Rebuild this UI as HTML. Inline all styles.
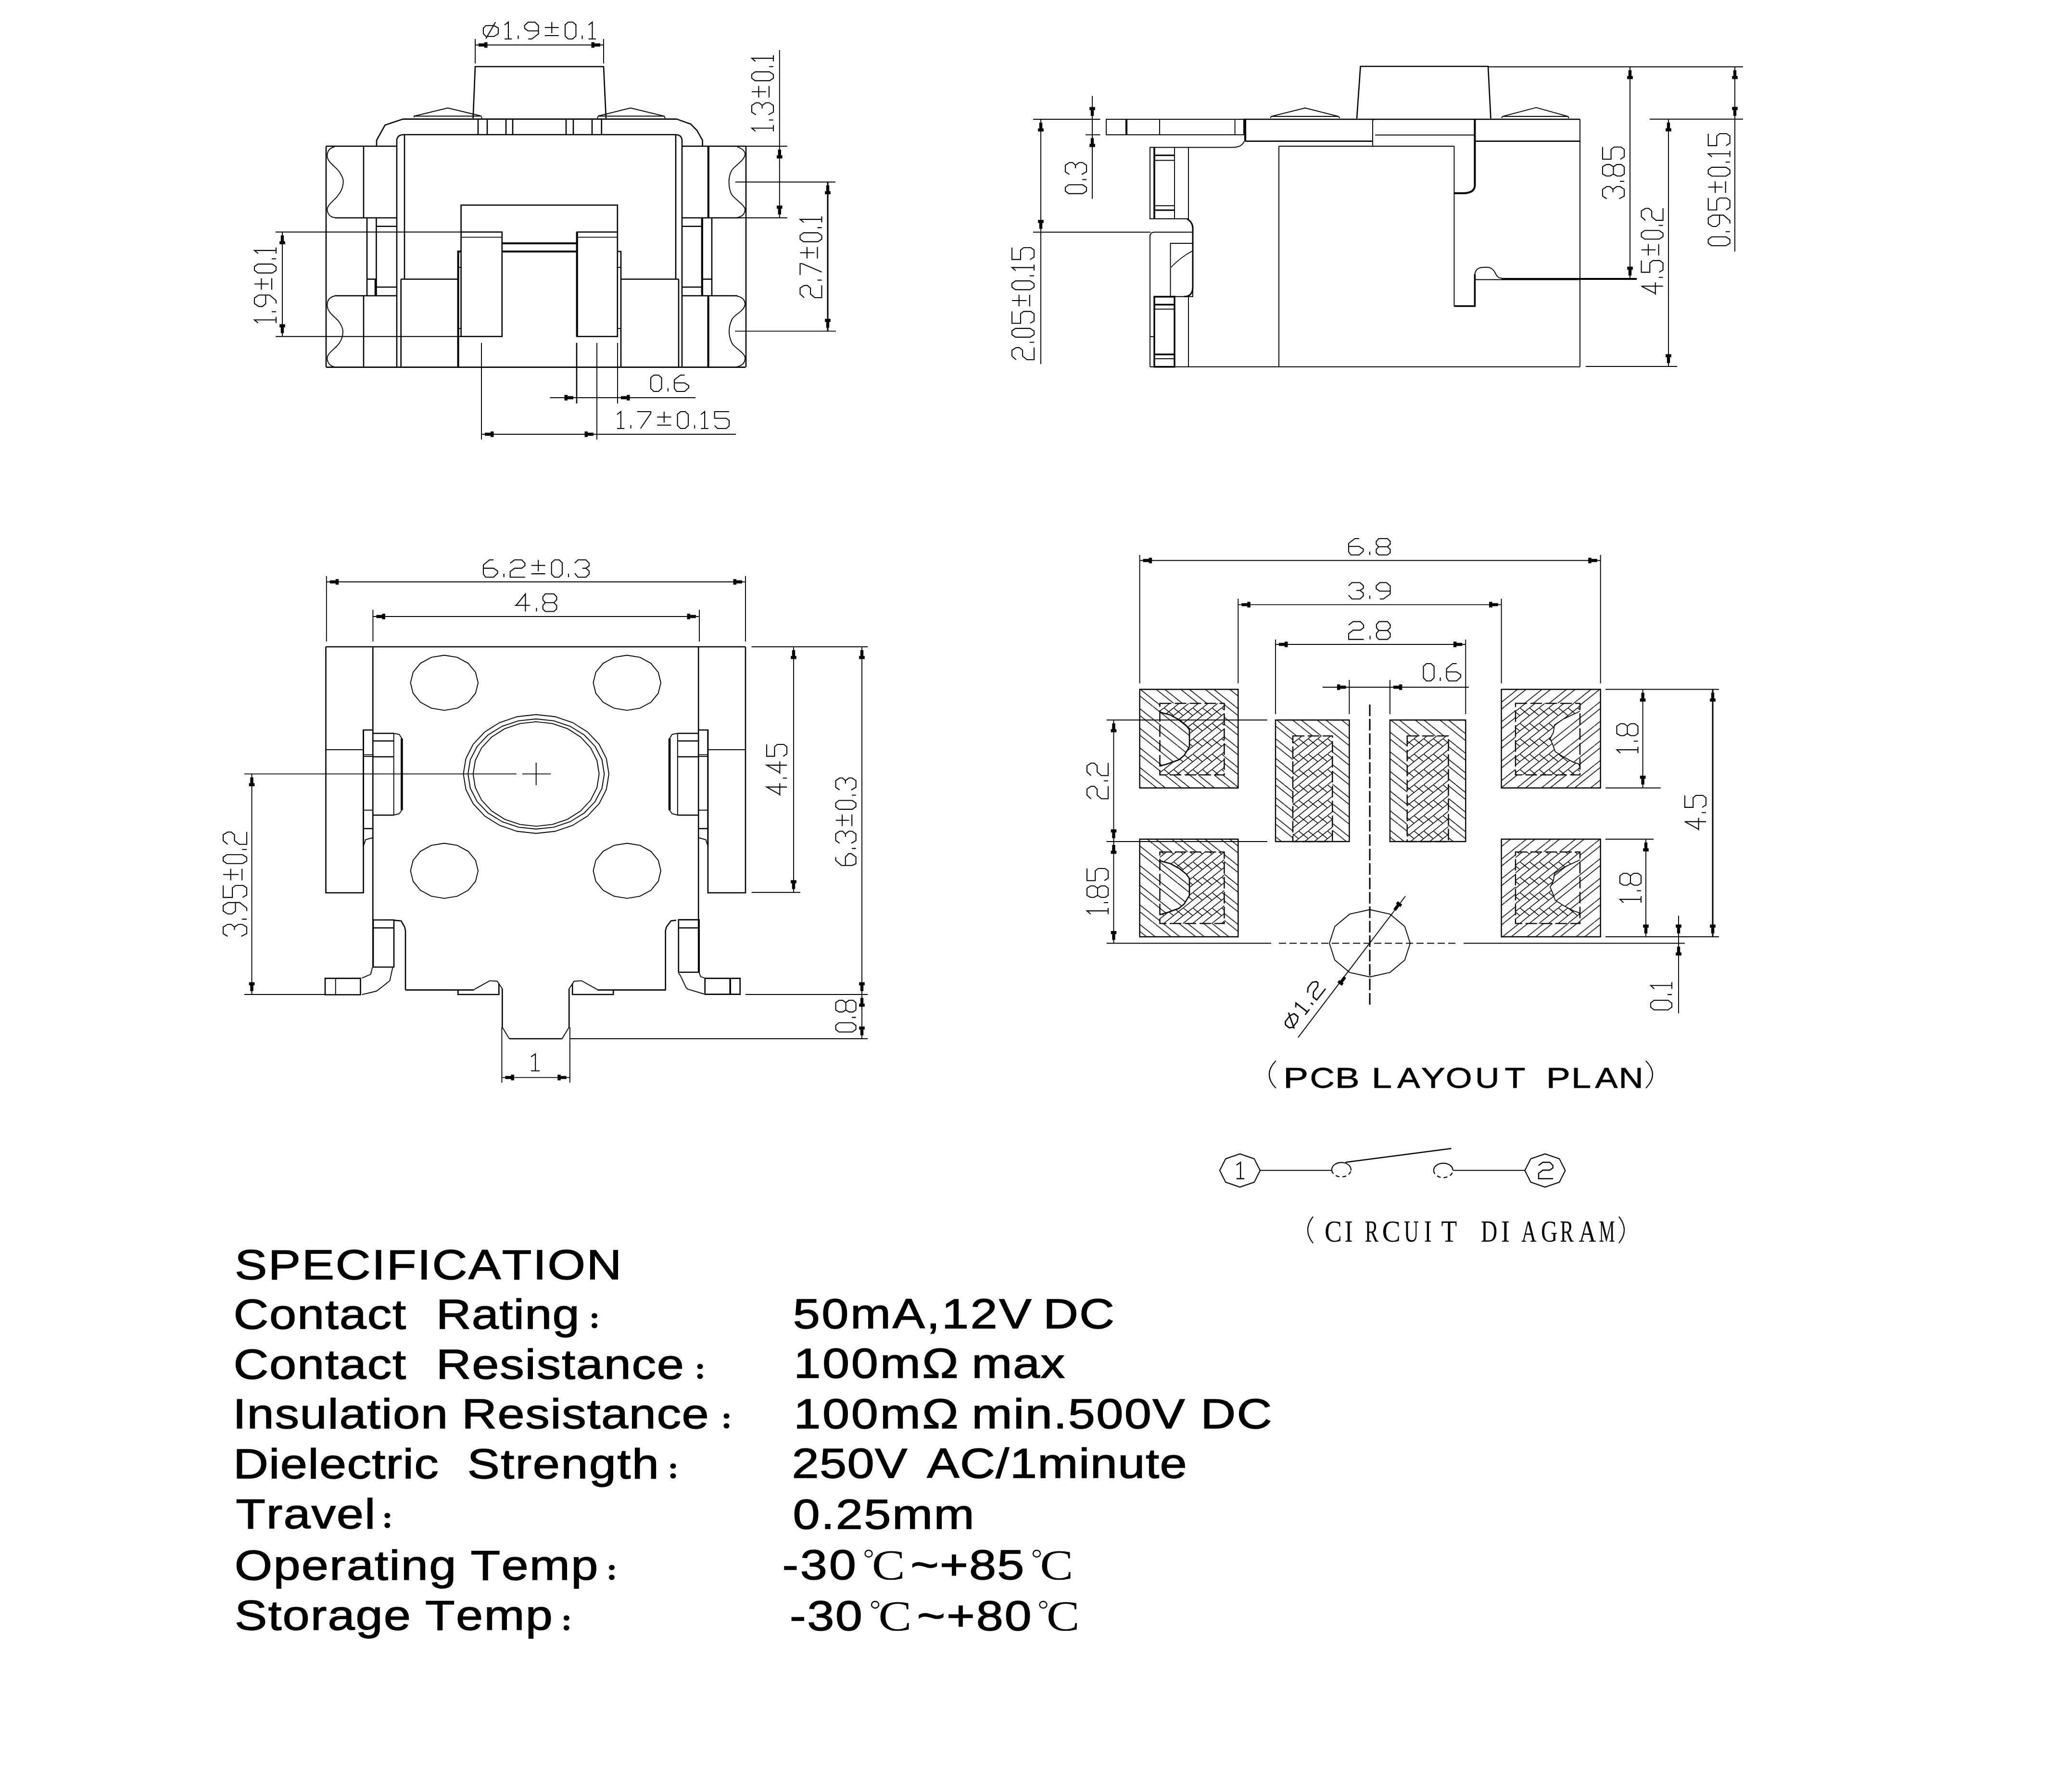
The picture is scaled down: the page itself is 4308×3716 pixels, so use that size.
<!DOCTYPE html>
<html><head><meta charset="utf-8"><style>
html,body{margin:0;padding:0;background:#fff;}
svg{display:block;}
svg line, svg path, svg ellipse, svg rect{stroke:#000;fill:none;stroke-linecap:butt;}
svg path.f{fill:#000;stroke:none;}
svg text{fill:#000;}
</style></head><body>
<svg width="4308" height="3716" viewBox="0 0 4308 3716">
<rect x="0" y="0" width="4308" height="3716" style="fill:#fff;stroke:none"/>
<defs>
<pattern id="hatch" patternUnits="userSpaceOnUse" width="51" height="40.8">
<path d="M-51,0 L0,40.8 M0,0 L51,40.8 M-33,0 L18,40.8 M18,0 L69,40.8" stroke="#000" stroke-width="1.6" fill="none"/>
</pattern>
<pattern id="hatch2" patternUnits="userSpaceOnUse" width="51" height="40.8">
<path d="M-51,40.8 L0,0 M0,40.8 L51,0 M-33,40.8 L18,0 M18,40.8 L69,0" stroke="#000" stroke-width="1.6" fill="none"/>
</pattern>
<pattern id="herr" patternUnits="userSpaceOnUse" width="20" height="32">
<path d="M-2,17.6 L22,-1.6 M-2,33.6 L22,14.4 M-2,-1.6 L22,17.6" stroke="#000" stroke-width="1.6" fill="none"/>
</pattern>
</defs>
<line x1="988" y1="81" x2="988" y2="132" stroke-width="1.9"/>
<line x1="1255" y1="81" x2="1255" y2="132" stroke-width="1.9"/>
<line x1="988" y1="93.5" x2="1255" y2="93.5" stroke-width="1.9"/>
<path class="f" d="M995,90.3 L1007,90.3 L1007,87.7 L1013.5,87.7 L1013.5,99.3 L1007,99.3 L1007,96.7 L995,96.7Z"/>
<path class="f" d="M1248,96.7 L1236,96.7 L1236,99.3 L1229.5,99.3 L1229.5,87.7 L1236,87.7 L1236,90.3 L1248,90.3Z"/>
<path transform="translate(1005,46) scale(1.0161,1)" d="M0,12.2 L5.2,7.3 L21.7,7.3 L30.4,12.2 L30.4,24.1 L21.7,29.8 L5.2,29.8 L0,24.1 Z M5.2,34.6 L24.8,0 M43.4,6 L51.1,0 L51.1,35 M43.4,35 L58.4,35 M71.4,28 L71.4,35 M112.7,18.2 L91.4,18.2 L84.4,12.9 L84.4,7 L91.7,0 L105.4,0 L112.7,7.3 L112.7,24.5 L99.1,35 L91.7,35 M125.7,11.2 L154.3,11.2 M140,0 L140,23.1 M125.7,28 L154.3,28 M173.6,0 L183.1,0 L189.4,5.6 L189.4,28.7 L182.7,35 L173.6,35 L167.3,28.7 L167.3,5.6 Z M202.3,28 L202.3,35 M215.2,6 L222.9,0 L222.9,35 M215.2,35 L230.3,35" stroke-width="2.1" vector-effect="non-scaling-stroke"/>
<path d="M983.6,246 L988,138.5 L1255,138.5 L1260,246" stroke-width="2.6"/>
<path d="M861,244 L861,241.5 L931,224.5 L983,237 L1000,241 L1002,246" stroke-width="1.9"/>
<line x1="861" y1="241.5" x2="998" y2="241.5" stroke-width="1.9"/>
<path d="M1242,246 L1244,241 L1261,237 L1311,224.5 L1381,241.5 L1383,246" stroke-width="1.9"/>
<line x1="1244" y1="241.5" x2="1381" y2="241.5" stroke-width="1.9"/>
<line x1="838" y1="247.6" x2="1407" y2="247.6" stroke-width="2.6"/>
<path d="M838,247.6 L800.6,260 L783,291.7 L783,304" stroke-width="2.6"/>
<path d="M1407,247.6 L1436,258 L1449,271 L1460.6,291.7 L1460.6,304" stroke-width="2.6"/>
<line x1="994" y1="247.6" x2="994" y2="280" stroke-width="2.6"/>
<line x1="1013" y1="247.6" x2="1013" y2="280" stroke-width="2.6"/>
<line x1="1052" y1="247.6" x2="1052" y2="280" stroke-width="2.6"/>
<line x1="1066" y1="247.6" x2="1066" y2="280" stroke-width="2.6"/>
<line x1="1177" y1="247.6" x2="1177" y2="280" stroke-width="2.6"/>
<line x1="1192" y1="247.6" x2="1192" y2="280" stroke-width="2.6"/>
<line x1="1231" y1="247.6" x2="1231" y2="280" stroke-width="2.6"/>
<line x1="1250.7" y1="247.6" x2="1250.7" y2="280" stroke-width="2.6"/>
<path d="M825,763.6 L825,293 Q825,280 840,280 L1404,280 Q1418,280 1418,293 L1418,763.6" stroke-width="2.6"/>
<line x1="841" y1="280" x2="841" y2="580.5" stroke-width="2.6"/>
<line x1="1405" y1="280" x2="1405" y2="580.5" stroke-width="2.6"/>
<line x1="833.7" y1="580.5" x2="833.7" y2="763.6" stroke-width="2.6"/>
<line x1="1411" y1="580.5" x2="1411" y2="763.6" stroke-width="2.6"/>
<line x1="833.7" y1="580.5" x2="952.6" y2="580.5" stroke-width="2.6"/>
<line x1="1291" y1="580.5" x2="1411" y2="580.5" stroke-width="2.6"/>
<line x1="678" y1="304" x2="678" y2="763.6" stroke-width="2.6"/>
<line x1="678" y1="304" x2="825" y2="304" stroke-width="2.6"/>
<line x1="696" y1="453" x2="825" y2="453" stroke-width="2.6"/>
<line x1="756" y1="304" x2="756" y2="453" stroke-width="2.6"/>
<path d="M696,305 C684,308 680,316 680.4,325 C681,338 700,348 706,358 C712,368 714,372 713.7,378.5 C713,392 708,400 700,410 C690,420 680,428 680.4,436 C681,446 688,452 696,452.4" stroke-width="1.9"/>
<line x1="696" y1="615" x2="825" y2="615" stroke-width="2.6"/>
<line x1="678" y1="763.6" x2="1550" y2="763.6" stroke-width="2.6"/>
<line x1="756" y1="615" x2="756" y2="763.6" stroke-width="2.6"/>
<path d="M696,615.5 C684,618 680,626 680.4,636 C681,650 698,660 704,668 C710,676 713,682 713,690 C713,702 708,712 700,720 C690,730 680,736 680.4,746 C681,756 688,762 696,763" stroke-width="1.9"/>
<line x1="763" y1="453" x2="763" y2="615" stroke-width="2.6"/>
<line x1="782.4" y1="453" x2="782.4" y2="615" stroke-width="2.6"/>
<line x1="782.4" y1="470.7" x2="825" y2="470.7" stroke-width="2.6"/>
<line x1="782.4" y1="597" x2="825" y2="597" stroke-width="2.6"/>
<line x1="763" y1="580.5" x2="782.4" y2="580.5" stroke-width="2.6"/>
<line x1="781" y1="580.5" x2="781" y2="615" stroke-width="4.5"/>
<line x1="1551" y1="304" x2="1551" y2="763.6" stroke-width="2.6"/>
<line x1="1418" y1="304" x2="1551" y2="304" stroke-width="2.6"/>
<line x1="1418" y1="453" x2="1535" y2="453" stroke-width="2.6"/>
<line x1="1472.8" y1="304" x2="1472.8" y2="453" stroke-width="4.2"/>
<path d="M1533,305.6 C1545,309 1550,316 1549,322 C1546,336 1526,345 1521,355 C1516,364 1515.6,372 1515.6,378.5 C1515.6,386 1517,396 1521,404 C1527,414 1546,424 1549,434 C1550,442 1545,450 1533,452.4" stroke-width="1.9"/>
<line x1="1418" y1="615" x2="1533" y2="615" stroke-width="2.6"/>
<line x1="1472.6" y1="615" x2="1472.6" y2="763.6" stroke-width="4.2"/>
<path d="M1531.7,615.5 C1545,618 1550,626 1549,634 C1546,648 1527,654 1522,664 C1517,674 1516,682 1516,688.6 C1516,696 1518,706 1522,714 C1528,724 1546,732 1549,742 C1550,752 1545,760 1531.7,763" stroke-width="1.9"/>
<line x1="1459.8" y1="453" x2="1459.8" y2="615" stroke-width="4.2"/>
<line x1="1480" y1="453" x2="1480" y2="615" stroke-width="2.6"/>
<line x1="1418" y1="470.7" x2="1459.8" y2="470.7" stroke-width="2.6"/>
<line x1="1418" y1="597" x2="1459.8" y2="597" stroke-width="2.6"/>
<line x1="1459.8" y1="580.5" x2="1480" y2="580.5" stroke-width="2.6"/>
<path d="M958.6,482.5 L958.6,426.5 L1283.8,426.5 L1283.8,482.5" stroke-width="2.6"/>
<path d="M958.6,482.5 L1043.8,482.5 L1043.8,699.7 L958.6,699.7Z" stroke-width="2.6"/>
<line x1="958.6" y1="493.4" x2="1043.8" y2="493.4" stroke-width="1.9"/>
<path d="M1199.7,482.5 L1283.8,482.5 L1283.8,699.7 L1199.7,699.7Z" stroke-width="2.6"/>
<line x1="1199.7" y1="493.4" x2="1283.8" y2="493.4" stroke-width="1.9"/>
<line x1="1043.8" y1="506" x2="1199.7" y2="506" stroke-width="3.8"/>
<line x1="1043.8" y1="523" x2="1199.7" y2="523" stroke-width="3.8"/>
<line x1="1199.7" y1="482.5" x2="1199.7" y2="699.7" stroke-width="4.2"/>
<path d="M958.6,523 L952.6,523 L952.6,763.6" stroke-width="4"/>
<line x1="952.6" y1="556" x2="958.6" y2="556" stroke-width="1.9"/>
<line x1="952.6" y1="683" x2="958.6" y2="683" stroke-width="1.9"/>
<path d="M1283.8,523 L1291,523 L1291,763.6" stroke-width="2.6"/>
<line x1="1283.8" y1="556" x2="1291" y2="556" stroke-width="1.9"/>
<line x1="1283.8" y1="683" x2="1291" y2="683" stroke-width="1.9"/>
<line x1="573" y1="482.5" x2="958.6" y2="482.5" stroke-width="1.9"/>
<line x1="573" y1="699.7" x2="958.6" y2="699.7" stroke-width="1.9"/>
<line x1="587" y1="482.5" x2="587" y2="699.7" stroke-width="1.9"/>
<path class="f" d="M590.2,489.5 L590.2,501.5 L592.8,501.5 L592.8,508 L581.2,508 L581.2,501.5 L583.8,501.5 L583.8,489.5Z"/>
<path class="f" d="M583.8,692.7 L583.8,680.7 L581.2,680.7 L581.2,674.2 L592.8,674.2 L592.8,680.7 L590.2,680.7 L590.2,692.7Z"/>
<path transform="translate(529,671.7) rotate(-90) scale(0.6533,1)" d="M0,7.7 L9.9,0 L9.9,45 M0,45 L19.4,45 M36,36 L36,45 M89.1,23.4 L61.6,23.4 L52.6,16.6 L52.6,9 L62.1,0 L79.7,0 L89.1,9.4 L89.1,31.5 L71.5,45 L62.1,45 M105.8,14.4 L142.7,14.4 M124.2,0 L124.2,29.7 M105.8,36 L142.7,36 M167.4,0 L179.6,0 L187.7,7.2 L187.7,36.9 L179.1,45 L167.4,45 L159.3,36.9 L159.3,7.2 Z M204.3,36 L204.3,45 M221,7.7 L230.9,0 L230.9,45 M221,45 L240.3,45" stroke-width="2.1" vector-effect="non-scaling-stroke"/>
<line x1="1418" y1="304" x2="1636.7" y2="304" stroke-width="1.9"/>
<line x1="1535" y1="453" x2="1636.7" y2="453" stroke-width="1.9"/>
<line x1="1620.8" y1="104" x2="1620.8" y2="453" stroke-width="1.9"/>
<path class="f" d="M1624,311 L1624,323 L1626.6,323 L1626.6,329.5 L1615,329.5 L1615,323 L1617.6,323 L1617.6,311Z"/>
<path class="f" d="M1617.6,446 L1617.6,434 L1615,434 L1615,427.5 L1626.6,427.5 L1626.6,434 L1624,434 L1624,446Z"/>
<path transform="translate(1563,273) rotate(-90) scale(0.6526,1)" d="M0,7.7 L9.9,0 L9.9,45 M0,45 L19.4,45 M36,36 L36,45 M52.6,8.6 L61.2,0 L82.3,0 L90.9,8.6 L90.9,15.3 L82.3,21.6 L72.9,21.6 M82.3,21.6 L90.9,29.2 L90.9,36.5 L82.3,45 L61.2,45 L52.6,34.6 M107.5,14.4 L144.4,14.4 M126,0 L126,29.7 M107.5,36 L144.4,36 M169.2,0 L181.3,0 L189.4,7.2 L189.4,36.9 L180.9,45 L169.2,45 L161.1,36.9 L161.1,7.2 Z M206.1,36 L206.1,45 M222.8,7.7 L232.7,0 L232.7,45 M222.8,45 L242.1,45" stroke-width="2.1" vector-effect="non-scaling-stroke"/>
<line x1="1528.7" y1="378.5" x2="1737" y2="378.5" stroke-width="1.9"/>
<line x1="1528" y1="688.6" x2="1738" y2="688.6" stroke-width="1.9"/>
<line x1="1721" y1="378.5" x2="1721" y2="688.6" stroke-width="3"/>
<path class="f" d="M1724.2,385.5 L1724.2,397.5 L1726.8,397.5 L1726.8,404 L1715.2,404 L1715.2,397.5 L1717.8,397.5 L1717.8,385.5Z"/>
<path class="f" d="M1717.8,681.6 L1717.8,669.6 L1715.2,669.6 L1715.2,663.1 L1726.8,663.1 L1726.8,669.6 L1724.2,669.6 L1724.2,681.6Z"/>
<path transform="translate(1663.5,619) rotate(-90) scale(0.6498,1)" d="M0,8.6 L11.7,0 L30.6,0 L39.1,8.6 L39.1,15.3 L30.6,21.6 L11.7,21.6 L0,30.6 L0,45 L39.6,45 M56.2,36 L56.2,45 M72.9,0 L108.9,0 L108.9,4.5 L81.9,45 M125.6,14.4 L162.5,14.4 M144,0 L144,29.7 M125.6,36 L162.5,36 M187.2,0 L199.4,0 L207.5,7.2 L207.5,36.9 L198.9,45 L187.2,45 L179.1,36.9 L179.1,7.2 Z M224.1,36 L224.1,45 M240.8,7.7 L250.7,0 L250.7,45 M240.8,45 L260.1,45" stroke-width="2.1" vector-effect="non-scaling-stroke"/>
<line x1="1199" y1="713" x2="1199" y2="839" stroke-width="2.6"/>
<line x1="1284" y1="713" x2="1284" y2="839" stroke-width="1.9"/>
<line x1="1143.5" y1="827" x2="1446" y2="827" stroke-width="1.9"/>
<path class="f" d="M1192,830.2 L1180,830.2 L1180,832.8 L1173.5,832.8 L1173.5,821.2 L1180,821.2 L1180,823.8 L1192,823.8Z"/>
<path class="f" d="M1291,823.8 L1303,823.8 L1303,821.2 L1309.5,821.2 L1309.5,832.8 L1303,832.8 L1303,830.2 L1291,830.2Z"/>
<path transform="translate(1353,780) scale(1.0514,1)" d="M6.1,0 L15.3,0 L21.4,5.4 L21.4,27.9 L15,34 L6.1,34 L0,27.9 L0,5.4 Z M34,27.2 L34,34 M67,0 L58.8,0 L48.3,8.5 L46.6,10.2 L46.6,27.5 L51,34 L67,34 L75.1,26.2 L75.1,21.8 L67,16.3 L46.6,16.3" stroke-width="2.1" vector-effect="non-scaling-stroke"/>
<line x1="1001" y1="713" x2="1001" y2="914" stroke-width="1.9"/>
<line x1="1241" y1="713" x2="1241" y2="914" stroke-width="1.9"/>
<line x1="1001" y1="903" x2="1530" y2="903" stroke-width="1.9"/>
<path class="f" d="M1008,899.8 L1020,899.8 L1020,897.2 L1026.5,897.2 L1026.5,908.8 L1020,908.8 L1020,906.2 L1008,906.2Z"/>
<path class="f" d="M1234,906.2 L1222,906.2 L1222,908.8 L1215.5,908.8 L1215.5,897.2 L1222,897.2 L1222,899.8 L1234,899.8Z"/>
<path transform="translate(1283,856) scale(1.0164,1)" d="M0,6 L7.7,0 L7.7,35 M0,35 L15,35 M28,28 L28,35 M41,0 L69,0 L69,3.5 L48,35 M81.9,11.2 L110.6,11.2 M96.2,0 L96.2,23.1 M81.9,28 L110.6,28 M129.9,0 L139.3,0 L145.6,5.6 L145.6,28.7 L139,35 L129.9,35 L123.6,28.7 L123.6,5.6 Z M158.6,28 L158.6,35 M171.5,6 L179.2,0 L179.2,35 M171.5,35 L186.6,35 M229.2,0 L199.5,0 L199.5,13.7 L223.3,13.7 L229.2,18.6 L229.2,29.8 L223.3,35 L205.4,35 L199.5,28.7" stroke-width="2.1" vector-effect="non-scaling-stroke"/>
<line x1="2271" y1="199.4" x2="2271" y2="413.6" stroke-width="1.9"/>
<path class="f" d="M2267.8,241 L2267.8,229 L2265.2,229 L2265.2,222.5 L2276.8,222.5 L2276.8,229 L2274.2,229 L2274.2,241Z"/>
<path class="f" d="M2274.2,287.3 L2274.2,299.3 L2276.8,299.3 L2276.8,305.8 L2265.2,305.8 L2265.2,299.3 L2267.8,299.3 L2267.8,287.3Z"/>
<line x1="2148" y1="248" x2="2287.6" y2="248" stroke-width="1.9"/>
<line x1="2257" y1="280.3" x2="2287.6" y2="280.3" stroke-width="1.9"/>
<path transform="translate(2215,402.6) rotate(-90) scale(0.6613,1)" d="M7.9,0 L19.8,0 L27.7,7 L27.7,36.1 L19.4,44 L7.9,44 L0,36.1 L0,7 Z M44,35.2 L44,44 M60.3,8.4 L68.6,0 L89.3,0 L97.7,8.4 L97.7,15 L89.3,21.1 L80.1,21.1 M89.3,21.1 L97.7,28.6 L97.7,35.6 L89.3,44 L68.6,44 L60.3,33.9" stroke-width="2.1" vector-effect="non-scaling-stroke"/>
<line x1="2164" y1="248" x2="2164" y2="757" stroke-width="1.9"/>
<path class="f" d="M2167.2,255 L2167.2,267 L2169.8,267 L2169.8,273.5 L2158.2,273.5 L2158.2,267 L2160.8,267 L2160.8,255Z"/>
<path class="f" d="M2160.8,475.7 L2160.8,463.7 L2158.2,463.7 L2158.2,457.2 L2169.8,457.2 L2169.8,463.7 L2167.2,463.7 L2167.2,475.7Z"/>
<line x1="2148" y1="482.7" x2="2392" y2="482.7" stroke-width="1.9"/>
<path transform="translate(2104,748) rotate(-90) scale(0.6292,1)" d="M0,8.7 L12,0 L31.3,0 L40,8.7 L40,15.6 L31.3,22.1 L12,22.1 L0,31.3 L0,46 L40.5,46 M57.5,36.8 L57.5,46 M82.8,0 L95.2,0 L103.5,7.4 L103.5,37.7 L94.8,46 L82.8,46 L74.5,37.7 L74.5,7.4 Z M159.6,0 L120.5,0 L120.5,17.9 L151.8,17.9 L159.6,24.4 L159.6,39.1 L151.8,46 L128.3,46 L120.5,37.7 M176.6,14.7 L214.4,14.7 M195.5,0 L195.5,30.4 M176.6,36.8 L214.4,36.8 M239.7,0 L252.1,0 L260.4,7.4 L260.4,37.7 L251.6,46 L239.7,46 L231.4,37.7 L231.4,7.4 Z M277.4,36.8 L277.4,46 M294.4,7.8 L304.5,0 L304.5,46 M294.4,46 L314.2,46 M370.3,0 L331.2,0 L331.2,17.9 L362.5,17.9 L370.3,24.4 L370.3,39.1 L362.5,46 L339,46 L331.2,37.7" stroke-width="2.1" vector-effect="non-scaling-stroke"/>
<path d="M2300,248 L2586,248 L2586,280.3 L2300,280.3Z" stroke-width="1.9"/>
<line x1="2342" y1="248" x2="2342" y2="280.3" stroke-width="4.2"/>
<line x1="2411" y1="248" x2="2411" y2="280.3" stroke-width="2"/>
<line x1="2567.6" y1="248" x2="2567.6" y2="280.3" stroke-width="1.9"/>
<line x1="2589" y1="248" x2="2589" y2="293.6" stroke-width="4.2"/>
<line x1="2586" y1="248" x2="3285" y2="248" stroke-width="2.6"/>
<line x1="2589" y1="293.6" x2="2854" y2="293.6" stroke-width="2.6"/>
<line x1="3066" y1="293.6" x2="3285" y2="293.6" stroke-width="2.6"/>
<path d="M2587,293.6 Q2582,306.5 2562,306.5 L2471,306.5" stroke-width="1.9"/>
<path d="M2391,306.5 L2471,306.5 L2471,455 L2391,455Z" stroke-width="1.9"/>
<line x1="2400" y1="306.5" x2="2400" y2="455" stroke-width="3.6"/>
<line x1="2442" y1="306.5" x2="2442" y2="455" stroke-width="1.9"/>
<line x1="2400" y1="323" x2="2442" y2="323" stroke-width="3.2"/>
<line x1="2400" y1="333.5" x2="2442" y2="333.5" stroke-width="1.9"/>
<line x1="2400" y1="427.7" x2="2442" y2="427.7" stroke-width="1.9"/>
<line x1="2400" y1="437" x2="2442" y2="437" stroke-width="3.2"/>
<path d="M2468,455 Q2480,462 2480,475 L2480,596.5 Q2480,616.8 2462,616.8" stroke-width="3"/>
<path d="M2480,482.7 L2400,482.7 Q2391,482.7 2391,492 L2391,762.7" stroke-width="1.9"/>
<path d="M2433.5,506 L2480,506 L2480,616.8 L2433.5,616.8Z" stroke-width="1.9"/>
<path d="M2434.6,556 C2445,545 2460,532 2479,522" stroke-width="1.8"/>
<path d="M2400,617 L2442,617 L2442,762.7 L2400,762.7Z" stroke-width="3.4"/>
<line x1="2400" y1="633.5" x2="2442" y2="633.5" stroke-width="3.4"/>
<line x1="2400" y1="642.7" x2="2442" y2="642.7" stroke-width="1.9"/>
<line x1="2400" y1="737" x2="2442" y2="737" stroke-width="3.4"/>
<line x1="2400" y1="746" x2="2442" y2="746" stroke-width="1.9"/>
<line x1="2391" y1="700" x2="2400" y2="700" stroke-width="1.9"/>
<line x1="2471" y1="617" x2="2471" y2="762.7" stroke-width="1.9"/>
<line x1="2659" y1="304" x2="2659" y2="762.7" stroke-width="1.9"/>
<line x1="2659" y1="304" x2="3023.4" y2="304" stroke-width="1.9"/>
<line x1="2391" y1="762.7" x2="3285" y2="762.7" stroke-width="1.9"/>
<path d="M2641.5,245.6 L2643,242 L2713.5,224.5 L2783,242 L2785.6,246" stroke-width="1.9"/>
<line x1="2643" y1="242" x2="2783" y2="242" stroke-width="1.9"/>
<path d="M3122,245.6 L3124,242 L3194,223.7 L3260,242 L3262,246" stroke-width="1.9"/>
<line x1="3124" y1="242" x2="3260" y2="242" stroke-width="1.9"/>
<path d="M2821,246.5 L2828.6,138 L3094,138 L3099.5,246.5" stroke-width="2.6"/>
<path d="M2854,304 L2854,252 Q2854,248 2859,248" stroke-width="1.9"/>
<line x1="2859" y1="280.7" x2="3066" y2="280.7" stroke-width="1.9"/>
<path d="M3066.4,248 L3066.4,385 Q3066.4,400 3046,401.8 L3023.4,401.8" stroke-width="4"/>
<line x1="3023.4" y1="304" x2="3023.4" y2="636.5" stroke-width="1.9"/>
<path d="M3023.4,636.5 L3066.4,636.5 L3066.4,570" stroke-width="3.6"/>
<path d="M3066.4,570 C3068,560 3074,556 3084,556 C3096,555 3102,556 3108,566 C3112,574 3114,578 3122.4,578.5" stroke-width="1.9"/>
<line x1="3122" y1="580" x2="3403" y2="580" stroke-width="4"/>
<line x1="3066.4" y1="581.5" x2="3285" y2="581.5" stroke-width="1.9"/>
<line x1="3285" y1="248" x2="3285" y2="762.7" stroke-width="1.9"/>
<line x1="3094" y1="139" x2="3624" y2="139" stroke-width="1.9"/>
<line x1="3389" y1="139" x2="3389" y2="580" stroke-width="1.9"/>
<path class="f" d="M3392.2,146 L3392.2,158 L3394.8,158 L3394.8,164.5 L3383.2,164.5 L3383.2,158 L3385.8,158 L3385.8,146Z"/>
<path class="f" d="M3385.8,573 L3385.8,561 L3383.2,561 L3383.2,554.5 L3394.8,554.5 L3394.8,561 L3392.2,561 L3392.2,573Z"/>
<path transform="translate(3332,413.4) rotate(-90) scale(0.6630,1)" d="M0,8.6 L8.6,0 L29.7,0 L38.2,8.6 L38.2,15.3 L29.7,21.6 L20.2,21.6 M29.7,21.6 L38.2,29.2 L38.2,36.5 L29.7,45 L8.6,45 L0,34.6 M54.9,36 L54.9,45 M77.8,0 L100.3,0 L107.5,7.7 L107.5,15.3 L100.3,22.5 L77.8,22.5 L71.5,15.3 L71.5,7.7 Z M77.8,22.5 L100.3,22.5 L107.5,29.7 L107.5,38.7 L100.3,45 L77.8,45 L71.5,38.7 L71.5,29.7 Z M162.4,0 L124.2,0 L124.2,17.6 L154.8,17.6 L162.4,23.9 L162.4,38.2 L154.8,45 L131.8,45 L124.2,36.9" stroke-width="2.1" vector-effect="non-scaling-stroke"/>
<line x1="3607" y1="139" x2="3607" y2="523" stroke-width="1.9"/>
<path class="f" d="M3610.2,146 L3610.2,158 L3612.8,158 L3612.8,164.5 L3601.2,164.5 L3601.2,158 L3603.8,158 L3603.8,146Z"/>
<path class="f" d="M3603.8,240.7 L3603.8,228.7 L3601.2,228.7 L3601.2,222.2 L3612.8,222.2 L3612.8,228.7 L3610.2,228.7 L3610.2,240.7Z"/>
<line x1="3430" y1="247.7" x2="3624" y2="247.7" stroke-width="1.9"/>
<path transform="translate(3551.7,511) rotate(-90) scale(0.6488,1)" d="M8.1,0 L20.2,0 L28.4,7.2 L28.4,36.9 L19.8,45 L8.1,45 L0,36.9 L0,7.2 Z M45,36 L45,45 M98.1,23.4 L70.7,23.4 L61.6,16.6 L61.6,9 L71.1,0 L88.7,0 L98.1,9.4 L98.1,31.5 L80.5,45 L71.1,45 M153,0 L114.8,0 L114.8,17.6 L145.3,17.6 L153,23.9 L153,38.2 L145.3,45 L122.4,45 L114.8,36.9 M169.7,14.4 L206.6,14.4 M188.1,0 L188.1,29.7 M169.7,36 L206.6,36 M231.3,0 L243.4,0 L251.5,7.2 L251.5,36.9 L243,45 L231.3,45 L223.2,36.9 L223.2,7.2 Z M268.2,36 L268.2,45 M284.8,7.7 L294.7,0 L294.7,45 M284.8,45 L304.2,45 M359.1,0 L320.8,0 L320.8,17.6 L351.4,17.6 L359.1,23.9 L359.1,38.2 L351.4,45 L328.5,45 L320.8,36.9" stroke-width="2.1" vector-effect="non-scaling-stroke"/>
<line x1="3469" y1="247.7" x2="3469" y2="762" stroke-width="1.9"/>
<path class="f" d="M3472.2,254.7 L3472.2,266.7 L3474.8,266.7 L3474.8,273.2 L3463.2,273.2 L3463.2,266.7 L3465.8,266.7 L3465.8,254.7Z"/>
<path class="f" d="M3465.8,755 L3465.8,743 L3463.2,743 L3463.2,736.5 L3474.8,736.5 L3474.8,743 L3472.2,743 L3472.2,755Z"/>
<line x1="3297" y1="762" x2="3487" y2="762" stroke-width="1.9"/>
<path transform="translate(3412.6,611) rotate(-90) scale(0.6349,1)" d="M25.2,45 L25.2,0 L2.2,27.9 L0,29.2 L37.4,29.2 M54,36 L54,45 M108.9,0 L70.7,0 L70.7,17.6 L101.2,17.6 L108.9,23.9 L108.9,38.2 L101.2,45 L78.3,45 L70.7,36.9 M125.6,14.4 L162.5,14.4 M144,0 L144,29.7 M125.6,36 L162.5,36 M187.2,0 L199.4,0 L207.5,7.2 L207.5,36.9 L198.9,45 L187.2,45 L179.1,36.9 L179.1,7.2 Z M224.1,36 L224.1,45 M240.8,8.6 L252.5,0 L271.4,0 L279.9,8.6 L279.9,15.3 L271.4,21.6 L252.5,21.6 L240.8,30.6 L240.8,45 L280.4,45" stroke-width="2.1" vector-effect="non-scaling-stroke"/>
<line x1="678.8" y1="1198" x2="678.8" y2="1334" stroke-width="1.9"/>
<line x1="1550" y1="1198" x2="1550" y2="1334" stroke-width="1.9"/>
<line x1="678.8" y1="1210" x2="1550" y2="1210" stroke-width="1.9"/>
<path class="f" d="M685.8,1206.8 L697.8,1206.8 L697.8,1204.2 L704.3,1204.2 L704.3,1215.8 L697.8,1215.8 L697.8,1213.2 L685.8,1213.2Z"/>
<path class="f" d="M1543,1213.2 L1531,1213.2 L1531,1215.8 L1524.5,1215.8 L1524.5,1204.2 L1531,1204.2 L1531,1206.8 L1543,1206.8Z"/>
<path transform="translate(1005,1164.3) scale(0.9793,1)" d="M21.6,0 L13,0 L1.8,9 L0,10.8 L0,29.2 L4.7,36 L21.6,36 L30.2,27.7 L30.2,23 L21.6,17.3 L0,17.3 M43.6,28.8 L43.6,36 M56.9,6.8 L66.2,0 L81.4,0 L88.2,6.8 L88.2,12.2 L81.4,17.3 L66.2,17.3 L56.9,24.5 L56.9,36 L88.6,36 M101.9,11.5 L131.4,11.5 M116.6,0 L116.6,23.8 M101.9,28.8 L131.4,28.8 M151.2,0 L160.9,0 L167.4,5.8 L167.4,29.5 L160.6,36 L151.2,36 L144.7,29.5 L144.7,5.8 Z M180.7,28.8 L180.7,36 M194,6.8 L200.9,0 L217.8,0 L224.6,6.8 L224.6,12.2 L217.8,17.3 L210.2,17.3 M217.8,17.3 L224.6,23.4 L224.6,29.2 L217.8,36 L200.9,36 L194,27.7" stroke-width="2.1" vector-effect="non-scaling-stroke"/>
<line x1="775.4" y1="1268" x2="775.4" y2="1334" stroke-width="1.9"/>
<line x1="1454" y1="1268" x2="1454" y2="1334" stroke-width="1.9"/>
<line x1="775.4" y1="1282" x2="1454" y2="1282" stroke-width="1.8"/>
<path class="f" d="M782.4,1278.8 L794.4,1278.8 L794.4,1276.2 L800.9,1276.2 L800.9,1287.8 L794.4,1287.8 L794.4,1285.2 L782.4,1285.2Z"/>
<path class="f" d="M1447,1285.2 L1435,1285.2 L1435,1287.8 L1428.5,1287.8 L1428.5,1276.2 L1435,1276.2 L1435,1278.8 L1447,1278.8Z"/>
<path transform="translate(1072.4,1235) scale(0.9826,1)" d="M20.4,36.5 L20.4,0 L1.8,22.6 L0,23.7 L30.3,23.7 M43.8,29.2 L43.8,36.5 M62.4,0 L80.7,0 L86.5,6.2 L86.5,12.4 L80.7,18.2 L62.4,18.2 L57.3,12.4 L57.3,6.2 Z M62.4,18.2 L80.7,18.2 L86.5,24.1 L86.5,31.4 L80.7,36.5 L62.4,36.5 L57.3,31.4 L57.3,24.1 Z" stroke-width="2.1" vector-effect="non-scaling-stroke"/>
<line x1="677.5" y1="1345" x2="1550" y2="1345" stroke-width="2.6"/>
<path d="M755.6,1518 L755.6,1856.5 L677.5,1856.5 L677.5,1345" stroke-width="2.6"/>
<line x1="677.5" y1="1559" x2="755.6" y2="1559" stroke-width="1.8"/>
<line x1="775.3" y1="1345" x2="775.3" y2="2011" stroke-width="2.6"/>
<path d="M775.3,1518 L755.6,1518 L755.6,1723 L775.3,1723" stroke-width="2.6"/>
<line x1="755.6" y1="1569.5" x2="775.3" y2="1569.5" stroke-width="1.9"/>
<line x1="755.6" y1="1573" x2="775.3" y2="1573" stroke-width="1.9"/>
<line x1="755.6" y1="1684.7" x2="775.3" y2="1684.7" stroke-width="1.9"/>
<path d="M775.3,1525 L818.7,1525" stroke-width="2.6"/>
<line x1="775.3" y1="1540.7" x2="818.7" y2="1540.7" stroke-width="2.6"/>
<line x1="775.3" y1="1573.7" x2="818.7" y2="1573.7" stroke-width="2.6"/>
<line x1="775.3" y1="1695" x2="818.7" y2="1695" stroke-width="2.6"/>
<line x1="818.7" y1="1525" x2="818.7" y2="1695" stroke-width="1.9"/>
<line x1="835.4" y1="1535.5" x2="835.4" y2="1684.7" stroke-width="4.6"/>
<path d="M818.7,1525 L830,1527 L835.4,1535.5" stroke-width="1.9"/>
<path d="M818.7,1695 L830,1692 L835.4,1684.7" stroke-width="1.9"/>
<path d="M757,1756 L760,1746 L775.3,1742" stroke-width="1.9"/>
<line x1="755.6" y1="1723" x2="755.6" y2="1760" stroke-width="2.6"/>
<path d="M776,1913 L819,1913 L819,2011 L776,2011Z" stroke-width="2.6"/>
<line x1="776" y1="1929.5" x2="819" y2="1929.5" stroke-width="2.6"/>
<path d="M819,1913.6 L834,1915 L841,1927 L843,1935 L843,2058.6" stroke-width="2.6"/>
<path d="M676,2034.4 L749.5,2034.4 L749.5,2068.5 L676,2068.5Z" stroke-width="2.6"/>
<line x1="697.7" y1="2034.4" x2="697.7" y2="2068.5" stroke-width="1.9"/>
<path d="M774.3,2011.5 L770.7,2026 L752.6,2033.8" stroke-width="1.9"/>
<path d="M816.5,2011.5 L810.5,2039.2 L797.2,2050 L782.7,2061 L752.6,2068.2" stroke-width="1.9"/>
<line x1="843" y1="2058.6" x2="985.3" y2="2058.6" stroke-width="2.6"/>
<path d="M985.3,2057.8 L1018.3,2039.4 L1034,2040.5 L1038.4,2047.4 L1044.3,2056" stroke-width="1.9"/>
<path d="M952.3,2057.8 L952.3,2068 L1037.3,2068 L1037.3,2045" stroke-width="2.6"/>
<line x1="1044.3" y1="2056" x2="1044.3" y2="2136" stroke-width="2.6"/>
<path d="M1044.3,2136 L1058.8,2160" stroke-width="1.9"/>
<path d="M994.1,1419.8 L988.7,1441.7 L973.5,1460.3 L950.7,1472.7 L923.8,1477.1 L896.9,1472.7 L874.1,1460.3 L858.9,1441.7 L853.5,1419.8 L858.9,1397.9 L874.1,1379.3 L896.9,1366.9 L923.8,1362.5 L950.7,1366.9 L973.5,1379.3 L988.7,1397.9Z" stroke-width="1.9"/>
<path d="M994.1,1810.8 L988.7,1832.7 L973.5,1851.3 L950.7,1863.7 L923.8,1868.1 L896.9,1863.7 L874.1,1851.3 L858.9,1832.7 L853.5,1810.8 L858.9,1788.9 L874.1,1770.3 L896.9,1757.9 L923.8,1753.5 L950.7,1757.9 L973.5,1770.3 L988.7,1788.9Z" stroke-width="1.9"/>
<path d="M1471.9,1518 L1471.9,1856.5 L1550,1856.5 L1550,1345" stroke-width="2.6"/>
<line x1="1550" y1="1559" x2="1471.9" y2="1559" stroke-width="1.8"/>
<line x1="1452.2" y1="1345" x2="1452.2" y2="2022" stroke-width="2.6"/>
<path d="M1452.2,1518 L1471.9,1518 L1471.9,1723 L1452.2,1723" stroke-width="2.6"/>
<line x1="1471.9" y1="1569.5" x2="1452.2" y2="1569.5" stroke-width="1.9"/>
<line x1="1471.9" y1="1573" x2="1452.2" y2="1573" stroke-width="1.9"/>
<line x1="1471.9" y1="1684.7" x2="1452.2" y2="1684.7" stroke-width="1.9"/>
<path d="M1452.2,1525 L1408.8,1525" stroke-width="2.6"/>
<line x1="1452.2" y1="1540.7" x2="1408.8" y2="1540.7" stroke-width="2.6"/>
<line x1="1452.2" y1="1573.7" x2="1408.8" y2="1573.7" stroke-width="2.6"/>
<line x1="1452.2" y1="1695" x2="1408.8" y2="1695" stroke-width="2.6"/>
<line x1="1408.8" y1="1525" x2="1408.8" y2="1695" stroke-width="1.9"/>
<line x1="1392.1" y1="1535.5" x2="1392.1" y2="1684.7" stroke-width="4.6"/>
<path d="M1408.8,1525 L1397.5,1527 L1392.1,1535.5" stroke-width="1.9"/>
<path d="M1408.8,1695 L1397.5,1692 L1392.1,1684.7" stroke-width="1.9"/>
<path d="M1470.5,1756 L1467.5,1746 L1452.2,1742" stroke-width="1.9"/>
<line x1="1471.9" y1="1723" x2="1471.9" y2="1760" stroke-width="2.6"/>
<path d="M1410.8,1912.6 L1453.7,1912.6 L1453.7,2021.8 L1410.8,2021.8Z" stroke-width="2.6"/>
<line x1="1410.8" y1="1929.5" x2="1453.7" y2="1929.5" stroke-width="2.6"/>
<path d="M1405.8,1913.6 L1395,1915 L1386,1927 L1383.7,1935 L1383.7,2058.6" stroke-width="2.6"/>
<path d="M1465.7,2034.4 L1538.7,2034.4 L1538.7,2067.6 L1465.7,2067.6Z" stroke-width="2.6"/>
<line x1="1518.2" y1="2034.4" x2="1518.2" y2="2067.6" stroke-width="3.6"/>
<path d="M1453.7,2022.4 L1456.7,2030.8 L1465.1,2033.8" stroke-width="1.9"/>
<path d="M1410.8,2023.6 L1414.5,2028.4 L1426.5,2053.7 L1430,2056.8 L1464,2067" stroke-width="1.9"/>
<line x1="1384.5" y1="2058.6" x2="1242.2" y2="2058.6" stroke-width="2.6"/>
<path d="M1242.2,2057.8 L1209.2,2039.4 L1193.5,2040.5 L1189.1,2047.4 L1183.2,2056" stroke-width="1.9"/>
<path d="M1275.2,2057.8 L1275.2,2068 L1190.2,2068 L1190.2,2045" stroke-width="2.6"/>
<line x1="1183.2" y1="2056" x2="1183.2" y2="2136" stroke-width="2.6"/>
<path d="M1183.2,2136 L1168.7,2160" stroke-width="1.9"/>
<path d="M1374,1419.8 L1368.6,1441.7 L1353.4,1460.3 L1330.6,1472.7 L1303.7,1477.1 L1276.8,1472.7 L1254,1460.3 L1238.8,1441.7 L1233.4,1419.8 L1238.8,1397.9 L1254,1379.3 L1276.8,1366.9 L1303.7,1362.5 L1330.6,1366.9 L1353.4,1379.3 L1368.6,1397.9Z" stroke-width="1.9"/>
<path d="M1374,1810.8 L1368.6,1832.7 L1353.4,1851.3 L1330.6,1863.7 L1303.7,1868.1 L1276.8,1863.7 L1254,1851.3 L1238.8,1832.7 L1233.4,1810.8 L1238.8,1788.9 L1254,1770.3 L1276.8,1757.9 L1303.7,1753.5 L1330.6,1757.9 L1353.4,1770.3 L1368.6,1788.9Z" stroke-width="1.9"/>
<line x1="1058.8" y1="2160" x2="1168.7" y2="2160" stroke-width="2.6"/>
<line x1="508" y1="1609.4" x2="1073.8" y2="1609.4" stroke-width="1.9"/>
<line x1="1086" y1="1609.4" x2="1145" y2="1609.4" stroke-width="1.9"/>
<line x1="1114.7" y1="1586" x2="1114.7" y2="1632.7" stroke-width="1.9"/>
<path d="M1266,1609.5 L1260.8,1641.5 L1245.7,1671.2 L1221.7,1696.8 L1190.4,1716.5 L1153.9,1728.8 L1114.7,1733 L1075.5,1728.8 L1039.1,1716.5 L1007.7,1696.8 L983.7,1671.2 L968.6,1641.5 L963.4,1609.5 L968.6,1577.5 L983.7,1547.8 L1007.7,1522.2 L1039,1502.5 L1075.5,1490.2 L1114.7,1486 L1153.9,1490.2 L1190.4,1502.5 L1221.7,1522.2 L1245.7,1547.8 L1260.8,1577.5Z" stroke-width="1.9"/>
<path d="M1256.4,1609.5 L1251.6,1639.1 L1237.4,1666.8 L1214.9,1690.5 L1185.5,1708.7 L1151.4,1720.1 L1114.7,1724 L1078,1720.1 L1043.9,1708.7 L1014.5,1690.5 L992,1666.8 L977.8,1639.1 L973,1609.5 L977.8,1579.9 L992,1552.2 L1014.5,1528.5 L1043.8,1510.3 L1078,1498.9 L1114.7,1495 L1151.4,1498.9 L1185.5,1510.3 L1214.9,1528.5 L1237.4,1552.2 L1251.6,1579.9Z" stroke-width="1.9"/>
<path d="M1245.7,1609.5 L1241.2,1637.6 L1228.1,1663.8 L1207.3,1686.3 L1180.2,1703.6 L1148.6,1714.4 L1114.7,1718.1 L1080.8,1714.4 L1049.2,1703.6 L1022.1,1686.3 L1001.3,1663.8 L988.2,1637.6 L983.7,1609.5 L988.2,1581.4 L1001.3,1555.2 L1022.1,1532.7 L1049.2,1515.4 L1080.8,1504.6 L1114.7,1500.9 L1148.6,1504.6 L1180.2,1515.4 L1207.3,1532.7 L1228.1,1555.2 L1241.2,1581.4Z" stroke-width="1.9"/>
<line x1="508" y1="2068" x2="675.7" y2="2068" stroke-width="1.9"/>
<line x1="523.5" y1="1609.4" x2="523.5" y2="2068" stroke-width="1.9"/>
<path class="f" d="M526.7,1616.4 L526.7,1628.4 L529.3,1628.4 L529.3,1634.9 L517.7,1634.9 L517.7,1628.4 L520.3,1628.4 L520.3,1616.4Z"/>
<path class="f" d="M520.3,2061 L520.3,2049 L517.7,2049 L517.7,2042.5 L529.3,2042.5 L529.3,2049 L526.7,2049 L526.7,2061Z"/>
<path transform="translate(464,1947) rotate(-90) scale(0.5960,1)" d="M0,9.3 L9.3,0 L32.3,0 L41.6,9.3 L41.6,16.7 L32.3,23.5 L22.1,23.5 M32.3,23.5 L41.6,31.9 L41.6,39.7 L32.3,49 L9.3,49 L0,37.7 M59.8,39.2 L59.8,49 M117.6,25.5 L87.7,25.5 L77.9,18.1 L77.9,9.8 L88.2,0 L107.3,0 L117.6,10.3 L117.6,34.3 L98.5,49 L88.2,49 M177.4,0 L135.7,0 L135.7,19.1 L169.1,19.1 L177.4,26 L177.4,41.6 L169.1,49 L144.1,49 L135.7,40.2 M195.5,15.7 L235.7,15.7 M215.6,0 L215.6,32.3 M195.5,39.2 L235.7,39.2 M262.6,0 L275.9,0 L284.7,7.8 L284.7,40.2 L275.4,49 L262.6,49 L253.8,40.2 L253.8,7.8 Z M302.8,39.2 L302.8,49 M321,9.3 L333.7,0 L354.3,0 L363.6,9.3 L363.6,16.7 L354.3,23.5 L333.7,23.5 L321,33.3 L321,49 L364.1,49" stroke-width="2.1" vector-effect="non-scaling-stroke"/>
<line x1="1562.6" y1="1345" x2="1804" y2="1345" stroke-width="1.9"/>
<line x1="1562.6" y1="1855.8" x2="1664" y2="1855.8" stroke-width="1.9"/>
<line x1="1550" y1="2068" x2="1804" y2="2068" stroke-width="1.9"/>
<line x1="1184.8" y1="2160" x2="1804" y2="2160" stroke-width="1.9"/>
<line x1="1792" y1="1345" x2="1792" y2="2160" stroke-width="1.9"/>
<path class="f" d="M1795.2,1352 L1795.2,1364 L1797.8,1364 L1797.8,1370.5 L1786.2,1370.5 L1786.2,1364 L1788.8,1364 L1788.8,1352Z"/>
<path class="f" d="M1788.8,2061 L1788.8,2049 L1786.2,2049 L1786.2,2042.5 L1797.8,2042.5 L1797.8,2049 L1795.2,2049 L1795.2,2061Z"/>
<path class="f" d="M1795.2,2075 L1795.2,2087 L1797.8,2087 L1797.8,2093.5 L1786.2,2093.5 L1786.2,2087 L1788.8,2087 L1788.8,2075Z"/>
<path class="f" d="M1788.8,2153 L1788.8,2141 L1786.2,2141 L1786.2,2134.5 L1797.8,2134.5 L1797.8,2141 L1795.2,2141 L1795.2,2153Z"/>
<path transform="translate(1737.6,1799.8) rotate(-90) scale(0.6978,1)" d="M25.2,0 L15.1,0 L2.1,10.5 L0,12.6 L0,34 L5.5,42 L25.2,42 L35.3,32.3 L35.3,26.9 L25.2,20.2 L0,20.2 M50.8,33.6 L50.8,42 M66.4,8 L74.3,0 L94.1,0 L102.1,8 L102.1,14.3 L94.1,20.2 L85.3,20.2 M94.1,20.2 L102.1,27.3 L102.1,34 L94.1,42 L74.3,42 L66.4,32.3 M117.6,13.4 L152,13.4 M134.8,0 L134.8,27.7 M117.6,33.6 L152,33.6 M175.1,0 L186.5,0 L194,6.7 L194,34.4 L186.1,42 L175.1,42 L167.6,34.4 L167.6,6.7 Z M209.6,33.6 L209.6,42 M225.1,8 L233.1,0 L252.8,0 L260.8,8 L260.8,14.3 L252.8,20.2 L244,20.2 M252.8,20.2 L260.8,27.3 L260.8,34 L252.8,42 L233.1,42 L225.1,32.3" stroke-width="2.1" vector-effect="non-scaling-stroke"/>
<path transform="translate(1737.6,2146) rotate(-90) scale(0.7242,1)" d="M7.6,0 L18.9,0 L26.5,6.7 L26.5,34.4 L18.5,42 L7.6,42 L0,34.4 L0,6.7 Z M42,33.6 L42,42 M63.4,0 L84.4,0 L91.1,7.1 L91.1,14.3 L84.4,21 L63.4,21 L57.5,14.3 L57.5,7.1 Z M63.4,21 L84.4,21 L91.1,27.7 L91.1,36.1 L84.4,42 L63.4,42 L57.5,36.1 L57.5,27.7 Z" stroke-width="2.1" vector-effect="non-scaling-stroke"/>
<line x1="1650" y1="1345" x2="1650" y2="1855.8" stroke-width="1.9"/>
<path class="f" d="M1653.2,1352 L1653.2,1364 L1655.8,1364 L1655.8,1370.5 L1644.2,1370.5 L1644.2,1364 L1646.8,1364 L1646.8,1352Z"/>
<path class="f" d="M1646.8,1848.8 L1646.8,1836.8 L1644.2,1836.8 L1644.2,1830.3 L1655.8,1830.3 L1655.8,1836.8 L1653.2,1836.8 L1653.2,1848.8Z"/>
<path transform="translate(1594,1652.8) rotate(-90) scale(0.6893,1)" d="M23.5,42 L23.5,0 L2.1,26 L0,27.3 L34.9,27.3 M50.4,33.6 L50.4,42 M89.5,42 L89.5,0 L68,26 L65.9,27.3 L100.8,27.3 M152,0 L116.3,0 L116.3,16.4 L144.9,16.4 L152,22.3 L152,35.7 L144.9,42 L123.5,42 L116.3,34.4" stroke-width="2.1" vector-effect="non-scaling-stroke"/>
<line x1="1043.4" y1="2136" x2="1043.4" y2="2251.5" stroke-width="1.9"/>
<line x1="1184.8" y1="2136" x2="1184.8" y2="2251.5" stroke-width="1.9"/>
<line x1="1043.4" y1="2240.6" x2="1184.8" y2="2240.6" stroke-width="1.9"/>
<path class="f" d="M1050.4,2237.4 L1062.4,2237.4 L1062.4,2234.8 L1068.9,2234.8 L1068.9,2246.4 L1062.4,2246.4 L1062.4,2243.8 L1050.4,2243.8Z"/>
<path class="f" d="M1177.8,2243.8 L1165.8,2243.8 L1165.8,2246.4 L1159.3,2246.4 L1159.3,2234.8 L1165.8,2234.8 L1165.8,2237.4 L1177.8,2237.4Z"/>
<path transform="translate(1104,2191.7) scale(1.1960,1)" d="M0,6 L7.7,0 L7.7,35 M0,35 L15,35" stroke-width="2.1" vector-effect="non-scaling-stroke"/>
<rect x="2369.6" y="1433.5" width="204.7" height="205" style="fill:url(#hatch);stroke:none"/>
<path d="M2411.5,1462.6 L2545.4,1462.6 L2545.4,1611.4 L2411.5,1611.4 L2411.5,1593 L2426.6,1588.7 L2451,1580 L2462,1571 L2473,1553 L2473,1517.7 L2466.6,1508.8 L2453,1497.7 L2433,1486.6 L2415,1482 L2411.5,1480 Z" style="fill:#fff;stroke:none"/>
<path d="M2411.5,1462.6 L2545.4,1462.6 L2545.4,1611.4 L2411.5,1611.4 L2411.5,1593 L2426.6,1588.7 L2451,1580 L2462,1571 L2473,1553 L2473,1517.7 L2466.6,1508.8 L2453,1497.7 L2433,1486.6 L2415,1482 L2411.5,1480 Z" style="fill:url(#herr);stroke:none"/>
<path d="M2369.6,1433.5 L2574.3,1433.5 L2574.3,1638.5 L2369.6,1638.5Z" stroke-width="2.4"/>
<path d="M2411.5,1462.6 L2545.4,1462.6 L2545.4,1611.4 L2411.5,1611.4 Z" stroke-width="2.4" stroke-dasharray="24,7"/>
<rect x="2369.6" y="1745" width="204.7" height="203" style="fill:url(#hatch);stroke:none"/>
<path d="M2411.5,1771.6 L2545.4,1771.6 L2545.4,1920.4 L2411.5,1920.4 L2411.5,1902 L2426.6,1897.7 L2451,1889 L2462,1880 L2473,1862 L2473,1826.7 L2466.6,1817.8 L2453,1806.7 L2433,1795.6 L2415,1791 L2411.5,1789 Z" style="fill:#fff;stroke:none"/>
<path d="M2411.5,1771.6 L2545.4,1771.6 L2545.4,1920.4 L2411.5,1920.4 L2411.5,1902 L2426.6,1897.7 L2451,1889 L2462,1880 L2473,1862 L2473,1826.7 L2466.6,1817.8 L2453,1806.7 L2433,1795.6 L2415,1791 L2411.5,1789 Z" style="fill:url(#herr);stroke:none"/>
<path d="M2369.6,1745 L2574.3,1745 L2574.3,1948 L2369.6,1948Z" stroke-width="2.4"/>
<path d="M2411.5,1771.6 L2545.4,1771.6 L2545.4,1920.4 L2411.5,1920.4 Z" stroke-width="2.4" stroke-dasharray="24,7"/>
<rect x="2652" y="1497.3" width="153.4" height="252.7" style="fill:url(#hatch);stroke:none"/>
<path d="M2688,1530.4 L2770.3,1530.4 L2770.3,1750 L2688,1750 Z" style="fill:#fff;stroke:none"/>
<path d="M2688,1530.4 L2770.3,1530.4 L2770.3,1750 L2688,1750 Z" style="fill:url(#herr);stroke:none"/>
<path d="M2652,1497.3 L2805.4,1497.3 L2805.4,1750 L2652,1750Z" stroke-width="2.4"/>
<path d="M2688,1530.4 L2770.3,1530.4 L2770.3,1750 L2688,1750 Z" stroke-width="2.4" stroke-dasharray="24,7"/>
<rect x="2889.9" y="1497.3" width="157.4" height="252.7" style="fill:url(#hatch);stroke:none"/>
<path d="M2925.7,1530.4 L3011.5,1530.4 L3011.5,1750 L2925.7,1750 Z" style="fill:#fff;stroke:none"/>
<path d="M2925.7,1530.4 L3011.5,1530.4 L3011.5,1750 L2925.7,1750 Z" style="fill:url(#herr);stroke:none"/>
<path d="M2889.9,1497.3 L3047.3,1497.3 L3047.3,1750 L2889.9,1750Z" stroke-width="2.4"/>
<path d="M2925.7,1530.4 L3011.5,1530.4 L3011.5,1750 L2925.7,1750 Z" stroke-width="2.4" stroke-dasharray="24,7"/>
<rect x="3121.6" y="1433.5" width="206.1" height="205" style="fill:url(#hatch2);stroke:none"/>
<path d="M3151,1462.6 L3285,1462.6 L3285,1479 L3251.6,1494.6 L3232,1507.5 L3229.7,1523 L3223,1535.8 L3228.4,1548.7 L3233.5,1563 L3249,1573 L3271,1584.8 L3282.5,1588.6 L3285,1595 L3285,1611.4 L3151,1611.4 Z" style="fill:#fff;stroke:none"/>
<path d="M3151,1462.6 L3285,1462.6 L3285,1479 L3251.6,1494.6 L3232,1507.5 L3229.7,1523 L3223,1535.8 L3228.4,1548.7 L3233.5,1563 L3249,1573 L3271,1584.8 L3282.5,1588.6 L3285,1595 L3285,1611.4 L3151,1611.4 Z" style="fill:url(#herr);stroke:none"/>
<path d="M3121.6,1433.5 L3327.7,1433.5 L3327.7,1638.5 L3121.6,1638.5Z" stroke-width="2.4"/>
<path d="M3151,1462.6 L3285,1462.6 L3285,1611.4 L3151,1611.4 Z" stroke-width="2.4" stroke-dasharray="24,7"/>
<rect x="3121.6" y="1745" width="206.1" height="203" style="fill:url(#hatch2);stroke:none"/>
<path d="M3151,1771.6 L3285,1771.6 L3285,1788 L3251.6,1803.6 L3232,1816.5 L3229.7,1832 L3223,1844.8 L3228.4,1857.7 L3233.5,1872 L3249,1882 L3271,1893.8 L3282.5,1897.6 L3285,1904 L3285,1920.4 L3151,1920.4 Z" style="fill:#fff;stroke:none"/>
<path d="M3151,1771.6 L3285,1771.6 L3285,1788 L3251.6,1803.6 L3232,1816.5 L3229.7,1832 L3223,1844.8 L3228.4,1857.7 L3233.5,1872 L3249,1882 L3271,1893.8 L3282.5,1897.6 L3285,1904 L3285,1920.4 L3151,1920.4 Z" style="fill:url(#herr);stroke:none"/>
<path d="M3121.6,1745 L3327.7,1745 L3327.7,1948 L3121.6,1948Z" stroke-width="2.4"/>
<path d="M3151,1771.6 L3285,1771.6 L3285,1920.4 L3151,1920.4 Z" stroke-width="2.4" stroke-dasharray="24,7"/>
<path d="M2411.5,1480 L2415,1482 L2433,1486.6 L2453,1497.7 L2466.6,1508.8 L2473,1517.7 L2473,1553 L2462,1571 L2451,1580 L2426.6,1588.7 L2411.5,1593" stroke-width="2.6"/>
<path d="M2411.5,1789 L2415,1791 L2433,1795.6 L2453,1806.7 L2466.6,1817.8 L2473,1826.7 L2473,1862 L2462,1880 L2451,1889 L2426.6,1897.7 L2411.5,1902" stroke-width="2.6"/>
<path d="M3285,1479 L3251.6,1494.6 L3232,1507.5 L3229.7,1523 L3223,1535.8 L3228.4,1548.7 L3233.5,1563 L3249,1573 L3271,1584.8 L3282.5,1588.6 L3285,1595" stroke-width="1.8"/>
<path d="M3285,1788 L3251.6,1803.6 L3232,1816.5 L3229.7,1832 L3223,1844.8 L3228.4,1857.7 L3233.5,1872 L3249,1882 L3271,1893.8 L3282.5,1897.6 L3285,1904" stroke-width="1.8"/>
<line x1="2369.6" y1="1154" x2="2369.6" y2="1421" stroke-width="1.9"/>
<line x1="3327.7" y1="1154" x2="3327.7" y2="1421" stroke-width="1.9"/>
<line x1="2369.6" y1="1165.5" x2="3327.7" y2="1165.5" stroke-width="1.9"/>
<path class="f" d="M2376.6,1162.3 L2388.6,1162.3 L2388.6,1159.7 L2395.1,1159.7 L2395.1,1171.3 L2388.6,1171.3 L2388.6,1168.7 L2376.6,1168.7Z"/>
<path class="f" d="M3320.7,1168.7 L3308.7,1168.7 L3308.7,1171.3 L3302.2,1171.3 L3302.2,1159.7 L3308.7,1159.7 L3308.7,1162.3 L3320.7,1162.3Z"/>
<path transform="translate(2804,1120) scale(1.0690,1)" d="M20.4,0 L12.2,0 L1.7,8.5 L0,10.2 L0,27.5 L4.4,34 L20.4,34 L28.6,26.2 L28.6,21.8 L20.4,16.3 L0,16.3 M41.1,27.2 L41.1,34 M58.5,0 L75.5,0 L80.9,5.8 L80.9,11.6 L75.5,17 L58.5,17 L53.7,11.6 L53.7,5.8 Z M58.5,17 L75.5,17 L80.9,22.4 L80.9,29.2 L75.5,34 L58.5,34 L53.7,29.2 L53.7,22.4 Z" stroke-width="2.1" vector-effect="non-scaling-stroke"/>
<line x1="2574.3" y1="1245" x2="2574.3" y2="1421" stroke-width="1.9"/>
<line x1="3121.6" y1="1245" x2="3121.6" y2="1421" stroke-width="1.9"/>
<line x1="2574.3" y1="1257.4" x2="3121.6" y2="1257.4" stroke-width="1.8"/>
<path class="f" d="M2581.3,1254.2 L2593.3,1254.2 L2593.3,1251.6 L2599.8,1251.6 L2599.8,1263.2 L2593.3,1263.2 L2593.3,1260.6 L2581.3,1260.6Z"/>
<path class="f" d="M3114.6,1260.6 L3102.6,1260.6 L3102.6,1263.2 L3096.1,1263.2 L3096.1,1251.6 L3102.6,1251.6 L3102.6,1254.2 L3114.6,1254.2Z"/>
<path transform="translate(2804,1211.5) scale(1.0600,1)" d="M0,6.5 L6.5,0 L22.4,0 L28.9,6.5 L28.9,11.6 L22.4,16.3 L15.3,16.3 M22.4,16.3 L28.9,22.1 L28.9,27.5 L22.4,34 L6.5,34 L0,26.2 M41.5,27.2 L41.5,34 M81.6,17.7 L60.9,17.7 L54.1,12.6 L54.1,6.8 L61.2,0 L74.5,0 L81.6,7.1 L81.6,23.8 L68.3,34 L61.2,34" stroke-width="2.1" vector-effect="non-scaling-stroke"/>
<line x1="2652" y1="1330" x2="2652" y2="1485" stroke-width="1.9"/>
<line x1="3047.3" y1="1330" x2="3047.3" y2="1485" stroke-width="1.9"/>
<line x1="2652" y1="1340" x2="3047.3" y2="1340" stroke-width="1.9"/>
<path class="f" d="M2659,1336.8 L2671,1336.8 L2671,1334.2 L2677.5,1334.2 L2677.5,1345.8 L2671,1345.8 L2671,1343.2 L2659,1343.2Z"/>
<path class="f" d="M3040.3,1343.2 L3028.3,1343.2 L3028.3,1345.8 L3021.8,1345.8 L3021.8,1334.2 L3028.3,1334.2 L3028.3,1336.8 L3040.3,1336.8Z"/>
<path transform="translate(2804,1292.6) scale(0.9660,1)" d="M0,7 L9.6,0 L25.2,0 L32.2,7 L32.2,12.6 L25.2,17.8 L9.6,17.8 L0,25.2 L0,37 L32.6,37 M46.2,29.6 L46.2,37 M65.1,0 L83.6,0 L89.5,6.3 L89.5,12.6 L83.6,18.5 L65.1,18.5 L59.9,12.6 L59.9,6.3 Z M65.1,18.5 L83.6,18.5 L89.5,24.4 L89.5,31.8 L83.6,37 L65.1,37 L59.9,31.8 L59.9,24.4 Z" stroke-width="2.1" vector-effect="non-scaling-stroke"/>
<line x1="2805.4" y1="1414" x2="2805.4" y2="1485" stroke-width="1.9"/>
<line x1="2889.9" y1="1414" x2="2889.9" y2="1485" stroke-width="1.9"/>
<line x1="2750" y1="1429" x2="3054" y2="1429" stroke-width="1.9"/>
<path class="f" d="M2798.4,1432.2 L2786.4,1432.2 L2786.4,1434.8 L2779.9,1434.8 L2779.9,1423.2 L2786.4,1423.2 L2786.4,1425.8 L2798.4,1425.8Z"/>
<path class="f" d="M2896.9,1425.8 L2908.9,1425.8 L2908.9,1423.2 L2915.4,1423.2 L2915.4,1434.8 L2908.9,1434.8 L2908.9,1432.2 L2896.9,1432.2Z"/>
<path transform="translate(2959.5,1380) scale(0.9741,1)" d="M6.5,0 L16.2,0 L22.7,5.8 L22.7,29.5 L15.8,36 L6.5,36 L0,29.5 L0,5.8 Z M36,28.8 L36,36 M70.9,0 L62.3,0 L51.1,9 L49.3,10.8 L49.3,29.2 L54,36 L70.9,36 L79.6,27.7 L79.6,23 L70.9,17.3 L49.3,17.3" stroke-width="2.1" vector-effect="non-scaling-stroke"/>
<line x1="2848" y1="1465" x2="2848" y2="2090" stroke-width="3" stroke-dasharray="24,6"/>
<line x1="2300.7" y1="1497.3" x2="2635" y2="1497.3" stroke-width="1.9"/>
<line x1="2300.7" y1="1750" x2="2635" y2="1750" stroke-width="1.9"/>
<line x1="2315.5" y1="1497.3" x2="2315.5" y2="1961.5" stroke-width="1.9"/>
<path class="f" d="M2318.7,1504.3 L2318.7,1516.3 L2321.3,1516.3 L2321.3,1522.8 L2309.7,1522.8 L2309.7,1516.3 L2312.3,1516.3 L2312.3,1504.3Z"/>
<path class="f" d="M2312.3,1743 L2312.3,1731 L2309.7,1731 L2309.7,1724.5 L2321.3,1724.5 L2321.3,1731 L2318.7,1731 L2318.7,1743Z"/>
<path class="f" d="M2318.7,1757 L2318.7,1769 L2321.3,1769 L2321.3,1775.5 L2309.7,1775.5 L2309.7,1769 L2312.3,1769 L2312.3,1757Z"/>
<path class="f" d="M2312.3,1954.5 L2312.3,1942.5 L2309.7,1942.5 L2309.7,1936 L2321.3,1936 L2321.3,1942.5 L2318.7,1942.5 L2318.7,1954.5Z"/>
<path transform="translate(2260,1661) rotate(-90) scale(0.6773,1)" d="M0,8.4 L11.4,0 L29.9,0 L38.3,8.4 L38.3,15 L29.9,21.1 L11.4,21.1 L0,29.9 L0,44 L38.7,44 M55,35.2 L55,44 M71.3,8.4 L82.7,0 L101.2,0 L109.6,8.4 L109.6,15 L101.2,21.1 L82.7,21.1 L71.3,29.9 L71.3,44 L110,44" stroke-width="2.1" vector-effect="non-scaling-stroke"/>
<path transform="translate(2260,1900.7) rotate(-90) scale(0.6747,1)" d="M0,7.5 L9.7,0 L9.7,44 M0,44 L18.9,44 M35.2,35.2 L35.2,44 M57.6,0 L79.6,0 L86.7,7.5 L86.7,15 L79.6,22 L57.6,22 L51.5,15 L51.5,7.5 Z M57.6,22 L79.6,22 L86.7,29 L86.7,37.8 L79.6,44 L57.6,44 L51.5,37.8 L51.5,29 Z M140.4,0 L103,0 L103,17.2 L132.9,17.2 L140.4,23.3 L140.4,37.4 L132.9,44 L110.4,44 L103,36.1" stroke-width="2.1" vector-effect="non-scaling-stroke"/>
<line x1="2300.7" y1="1961.5" x2="2643" y2="1961.5" stroke-width="1.9"/>
<line x1="2659" y1="1961.5" x2="3033" y2="1961.5" stroke-width="1.9" stroke-dasharray="15,7"/>
<line x1="3043" y1="1961.5" x2="3503" y2="1961.5" stroke-width="1.9"/>
<line x1="3338" y1="1433.5" x2="3574" y2="1433.5" stroke-width="1.9"/>
<line x1="3338" y1="1638.5" x2="3452.7" y2="1638.5" stroke-width="1.9"/>
<line x1="3415.6" y1="1433.5" x2="3415.6" y2="1638.5" stroke-width="1.9"/>
<path class="f" d="M3418.8,1440.5 L3418.8,1452.5 L3421.4,1452.5 L3421.4,1459 L3409.8,1459 L3409.8,1452.5 L3412.4,1452.5 L3412.4,1440.5Z"/>
<path class="f" d="M3412.4,1631.5 L3412.4,1619.5 L3409.8,1619.5 L3409.8,1613 L3421.4,1613 L3421.4,1619.5 L3418.8,1619.5 L3418.8,1631.5Z"/>
<path transform="translate(3361.5,1566) rotate(-90) scale(0.7037,1)" d="M0,7.5 L9.7,0 L9.7,44 M0,44 L18.9,44 M35.2,35.2 L35.2,44 M57.6,0 L79.6,0 L86.7,7.5 L86.7,15 L79.6,22 L57.6,22 L51.5,15 L51.5,7.5 Z M57.6,22 L79.6,22 L86.7,29 L86.7,37.8 L79.6,44 L57.6,44 L51.5,37.8 L51.5,29 Z" stroke-width="2.1" vector-effect="non-scaling-stroke"/>
<line x1="3338" y1="1745" x2="3438" y2="1745" stroke-width="1.9"/>
<line x1="3338" y1="1948" x2="3574" y2="1948" stroke-width="1.9"/>
<line x1="3422" y1="1745" x2="3422" y2="1948" stroke-width="1.9"/>
<path class="f" d="M3425.2,1752 L3425.2,1764 L3427.8,1764 L3427.8,1770.5 L3416.2,1770.5 L3416.2,1764 L3418.8,1764 L3418.8,1752Z"/>
<path class="f" d="M3418.8,1941 L3418.8,1929 L3416.2,1929 L3416.2,1922.5 L3427.8,1922.5 L3427.8,1929 L3425.2,1929 L3425.2,1941Z"/>
<path transform="translate(3368,1877) rotate(-90) scale(0.7037,1)" d="M0,7.5 L9.7,0 L9.7,44 M0,44 L18.9,44 M35.2,35.2 L35.2,44 M57.6,0 L79.6,0 L86.7,7.5 L86.7,15 L79.6,22 L57.6,22 L51.5,15 L51.5,7.5 Z M57.6,22 L79.6,22 L86.7,29 L86.7,37.8 L79.6,44 L57.6,44 L51.5,37.8 L51.5,29 Z" stroke-width="2.1" vector-effect="non-scaling-stroke"/>
<line x1="3561" y1="1433.5" x2="3561" y2="1948" stroke-width="3"/>
<path class="f" d="M3564.2,1440.5 L3564.2,1452.5 L3566.8,1452.5 L3566.8,1459 L3555.2,1459 L3555.2,1452.5 L3557.8,1452.5 L3557.8,1440.5Z"/>
<path class="f" d="M3557.8,1941 L3557.8,1929 L3555.2,1929 L3555.2,1922.5 L3566.8,1922.5 L3566.8,1929 L3564.2,1929 L3564.2,1941Z"/>
<path transform="translate(3503,1725) rotate(-90) scale(0.6668,1)" d="M24.6,44 L24.6,0 L2.2,27.3 L0,28.6 L36.5,28.6 M52.8,35.2 L52.8,44 M106.5,0 L69.1,0 L69.1,17.2 L99,17.2 L106.5,23.3 L106.5,37.4 L99,44 L76.6,44 L69.1,36.1" stroke-width="2.1" vector-effect="non-scaling-stroke"/>
<line x1="3490" y1="1904" x2="3490" y2="2107" stroke-width="1.9"/>
<path class="f" d="M3486.8,1941 L3486.8,1929 L3484.2,1929 L3484.2,1922.5 L3495.8,1922.5 L3495.8,1929 L3493.2,1929 L3493.2,1941Z"/>
<path class="f" d="M3493.2,1968.5 L3493.2,1980.5 L3495.8,1980.5 L3495.8,1987 L3484.2,1987 L3484.2,1980.5 L3486.8,1980.5 L3486.8,1968.5Z"/>
<path transform="translate(3432,2100) rotate(-90) scale(0.7247,1)" d="M7.9,0 L19.8,0 L27.7,7 L27.7,36.1 L19.4,44 L7.9,44 L0,36.1 L0,7 Z M44,35.2 L44,44 M60.3,7.5 L70,0 L70,44 M60.3,44 L79.2,44" stroke-width="2.1" vector-effect="non-scaling-stroke"/>
<path d="M2932,1961.5 L2920.7,1996.5 L2890,2022.1 L2848,2031.5 L2806,2022.1 L2775.3,1996.5 L2764,1961.5 L2775.3,1926.5 L2806,1900.9 L2848,1891.5 L2890,1900.9 L2920.7,1926.5Z" stroke-width="1.9"/>
<line x1="2699" y1="2157.4" x2="2922" y2="1863.5" stroke-width="1.9"/>
<path class="f" d="M2798.9,2033.7 L2791.7,2043.3 L2793.7,2044.8 L2789.8,2050 L2780.6,2043 L2784.5,2037.8 L2786.6,2039.4 L2793.8,2029.8Z"/>
<path class="f" d="M2897.1,1890.3 L2904.3,1880.7 L2902.3,1879.2 L2906.2,1874 L2915.4,1881 L2911.5,1886.2 L2909.4,1884.6 L2902.2,1894.2Z"/>
<path transform="translate(2688,2143) rotate(-52) translate(0,-30) scale(1.12,1)" d="M0,10.5 L4.5,6.3 L18.6,6.3 L26.1,10.5 L26.1,20.7 L18.6,25.5 L4.5,25.5 L0,20.7 Z M4.5,29.7 L21.3,0 M37.2,5.1 L43.8,0 L43.8,30 M37.2,30 L50.1,30 M61.2,24 L61.2,30 M72.3,5.7 L80.1,0 L92.7,0 L98.4,5.7 L98.4,10.2 L92.7,14.4 L80.1,14.4 L72.3,20.4 L72.3,30 L98.7,30" stroke-width="2.6"/>
<text transform="translate(2668.2,2261.5) scale(1.3184,1)" font-family="Liberation Sans" font-size="59" font-weight="normal" stroke="#000" stroke-width="0.8">P</text>
<text transform="translate(2723.4,2261.5) scale(1.2043,1)" font-family="Liberation Sans" font-size="59" font-weight="normal" stroke="#000" stroke-width="0.8">C</text>
<text transform="translate(2775.7,2261.5) scale(1.2929,1)" font-family="Liberation Sans" font-size="59" font-weight="normal" stroke="#000" stroke-width="0.8">B</text>
<text transform="translate(2851.8,2261.5) scale(1.2878,1)" font-family="Liberation Sans" font-size="59" font-weight="normal" stroke="#000" stroke-width="0.8">L</text>
<text transform="translate(2904.9,2261.5) scale(1.2090,1)" font-family="Liberation Sans" font-size="59" font-weight="normal" stroke="#000" stroke-width="0.8">A</text>
<text transform="translate(2954.8,2261.5) scale(1.2677,1)" font-family="Liberation Sans" font-size="59" font-weight="normal" stroke="#000" stroke-width="0.8">Y</text>
<text transform="translate(3005.7,2261.5) scale(1.1968,1)" font-family="Liberation Sans" font-size="59" font-weight="normal" stroke="#000" stroke-width="0.8">O</text>
<text transform="translate(3067,2261.5) scale(1.1819,1)" font-family="Liberation Sans" font-size="59" font-weight="normal" stroke="#000" stroke-width="0.8">U</text>
<text transform="translate(3128.4,2261.5) scale(1.1900,1)" font-family="Liberation Sans" font-size="59" font-weight="normal" stroke="#000" stroke-width="0.8">T</text>
<text transform="translate(3214.8,2261.5) scale(1.2738,1)" font-family="Liberation Sans" font-size="59" font-weight="normal" stroke="#000" stroke-width="0.8">P</text>
<text transform="translate(3266.9,2261.5) scale(1.2532,1)" font-family="Liberation Sans" font-size="59" font-weight="normal" stroke="#000" stroke-width="0.8">L</text>
<text transform="translate(3316.6,2261.5) scale(1.1911,1)" font-family="Liberation Sans" font-size="59" font-weight="normal" stroke="#000" stroke-width="0.8">A</text>
<text transform="translate(3365.6,2261.5) scale(1.2016,1)" font-family="Liberation Sans" font-size="59" font-weight="normal" stroke="#000" stroke-width="0.8">N</text>
<path d="M2652.7,2206 Q2625,2234 2652.7,2262.8" stroke-width="2.2"/>
<path d="M3422,2206 Q3450,2234 3422,2262.8" stroke-width="2.2"/>
<path d="M2620,2434 L2607.7,2458.4 L2578,2468.5 L2548.3,2458.4 L2536,2434 L2548.3,2409.6 L2578,2399.5 L2607.7,2409.6Z" stroke-width="2.2"/>
<path d="M3254.4,2434 L3242.1,2458.4 L3212.4,2468.5 L3182.7,2458.4 L3170.4,2434 L3182.7,2409.6 L3212.4,2399.5 L3242.1,2409.6Z" stroke-width="2.2"/>
<line x1="2619.7" y1="2433.8" x2="2768" y2="2433.8" stroke-width="2"/>
<line x1="3021" y1="2433.8" x2="3170.6" y2="2433.8" stroke-width="2"/>
<path d="M2769,2433.8 A20,15 0 1 1 2808.8,2433.8" stroke-width="2.2"/>
<path d="M2769,2433.8 A20,15 0 0 0 2808.8,2433.8" stroke-width="2.2" stroke-dasharray="8,6"/>
<path d="M2980.8,2433.8 A20,15 0 1 1 3020.8,2433.8" stroke-width="2.2"/>
<path d="M2980.8,2433.8 A20,15 0 0 0 3020.8,2433.8" stroke-width="2.2" stroke-dasharray="8,6"/>
<line x1="2797.3" y1="2417" x2="3017.4" y2="2388.3" stroke-width="2.6"/>
<path transform="translate(2571,2417) scale(1.0944,1)" d="M0,5.8 L7.5,0 L7.5,34 M0,34 L14.6,34" stroke-width="2.4" vector-effect="non-scaling-stroke"/>
<path transform="translate(3199,2417) scale(1.0027,1)" d="M0,6.5 L8.8,0 L23.1,0 L29.6,6.5 L29.6,11.6 L23.1,16.3 L8.8,16.3 L0,23.1 L0,34 L29.9,34" stroke-width="2.4" vector-effect="non-scaling-stroke"/>
<text transform="translate(2754,2582.3) scale(0.8431,1)" font-family="Liberation Serif" font-size="64" font-weight="normal" >C</text>
<text transform="translate(2795.6,2582.3) scale(0.8060,1)" font-family="Liberation Serif" font-size="64" font-weight="normal" >I</text>
<text transform="translate(2837.8,2582.3) scale(0.6626,1)" font-family="Liberation Serif" font-size="64" font-weight="normal" >R</text>
<text transform="translate(2873.5,2582.3) scale(0.8979,1)" font-family="Liberation Serif" font-size="64" font-weight="normal" >C</text>
<text transform="translate(2919.1,2582.3) scale(0.6662,1)" font-family="Liberation Serif" font-size="64" font-weight="normal" >U</text>
<text transform="translate(2961,2582.3) scale(0.7343,1)" font-family="Liberation Serif" font-size="64" font-weight="normal" >I</text>
<text transform="translate(2996.5,2582.3) scale(0.8380,1)" font-family="Liberation Serif" font-size="64" font-weight="normal" >T</text>
<text transform="translate(3079.1,2582.3) scale(0.7414,1)" font-family="Liberation Serif" font-size="64" font-weight="normal" >D</text>
<text transform="translate(3121.1,2582.3) scale(0.8358,1)" font-family="Liberation Serif" font-size="64" font-weight="normal" >I</text>
<text transform="translate(3163.1,2582.3) scale(0.6848,1)" font-family="Liberation Serif" font-size="64" font-weight="normal" >A</text>
<text transform="translate(3204,2582.3) scale(0.7453,1)" font-family="Liberation Serif" font-size="64" font-weight="normal" >G</text>
<text transform="translate(3243.4,2582.3) scale(0.6626,1)" font-family="Liberation Serif" font-size="64" font-weight="normal" >R</text>
<text transform="translate(3282.5,2582.3) scale(0.7756,1)" font-family="Liberation Serif" font-size="64" font-weight="normal" >A</text>
<text transform="translate(3324.6,2582.3) scale(0.5810,1)" font-family="Liberation Serif" font-size="64" font-weight="normal" >M</text>
<path d="M2730,2530 Q2708,2558 2730,2585" stroke-width="2.2"/>
<path d="M3366,2530 Q3388,2558 3366,2585" stroke-width="2.2"/>
<text transform="translate(488,2660) scale(1.1670,1)" font-family="Liberation Sans" font-size="86.5" font-weight="normal" letter-spacing="2.18" style="font-kerning:none" stroke="#000" stroke-width="1.4">SPECIFICATION</text>
<text transform="translate(485.4,2762.6) scale(1.1670,1)" font-family="Liberation Sans" font-size="86.5" font-weight="normal" letter-spacing="1.54" style="font-kerning:none" stroke="#000" stroke-width="1.4">Contact</text>
<text transform="translate(906.7,2762.6) scale(1.1670,1)" font-family="Liberation Sans" font-size="86.5" font-weight="normal" letter-spacing="1.06" style="font-kerning:none" stroke="#000" stroke-width="1.4">Rating</text>
<text transform="translate(485.4,2867.2) scale(1.1670,1)" font-family="Liberation Sans" font-size="86.5" font-weight="normal" letter-spacing="1.54" style="font-kerning:none" stroke="#000" stroke-width="1.4">Contact</text>
<text transform="translate(906.7,2867.2) scale(1.1670,1)" font-family="Liberation Sans" font-size="86.5" font-weight="normal" letter-spacing="1.51" style="font-kerning:none" stroke="#000" stroke-width="1.4">Resistance</text>
<text transform="translate(483.9,2970.4) scale(1.1670,1)" font-family="Liberation Sans" font-size="86.5" font-weight="normal" letter-spacing="1.43" style="font-kerning:none" stroke="#000" stroke-width="1.4">Insulation</text>
<text transform="translate(960,2970.4) scale(1.1670,1)" font-family="Liberation Sans" font-size="86.5" font-weight="normal" letter-spacing="1.37" style="font-kerning:none" stroke="#000" stroke-width="1.4">Resistance</text>
<text transform="translate(484.9,3073.7) scale(1.1670,1)" font-family="Liberation Sans" font-size="86.5" font-weight="normal" letter-spacing="1.11" style="font-kerning:none" stroke="#000" stroke-width="1.4">Dielectric</text>
<text transform="translate(971.4,3073.7) scale(1.1670,1)" font-family="Liberation Sans" font-size="86.5" font-weight="normal" letter-spacing="2.07" style="font-kerning:none" stroke="#000" stroke-width="1.4">Strength</text>
<text transform="translate(490.3,3178) scale(1.1670,1)" font-family="Liberation Sans" font-size="86.5" font-weight="normal" letter-spacing="1.64" style="font-kerning:none" stroke="#000" stroke-width="1.4">Travel</text>
<text transform="translate(487.8,3284.6) scale(1.1670,1)" font-family="Liberation Sans" font-size="86.5" font-weight="normal" letter-spacing="1.84" style="font-kerning:none" stroke="#000" stroke-width="1.4">Operating</text>
<text transform="translate(978.4,3284.6) scale(1.1670,1)" font-family="Liberation Sans" font-size="86.5" font-weight="normal" letter-spacing="1.99" style="font-kerning:none" stroke="#000" stroke-width="1.4">Temp</text>
<text transform="translate(488,3389) scale(1.1670,1)" font-family="Liberation Sans" font-size="86.5" font-weight="normal" letter-spacing="1.77" style="font-kerning:none" stroke="#000" stroke-width="1.4">Storage</text>
<text transform="translate(884.1,3389) scale(1.1670,1)" font-family="Liberation Sans" font-size="86.5" font-weight="normal" letter-spacing="1.96" style="font-kerning:none" stroke="#000" stroke-width="1.4">Temp</text>
<text transform="translate(1648.7,2762) scale(1.1670,1)" font-family="Liberation Sans" font-size="86.5" font-weight="normal" letter-spacing="2.99" style="font-kerning:none" stroke="#000" stroke-width="1.4">50mA,12V</text>
<text transform="translate(2168.9,2762) scale(1.1670,1)" font-family="Liberation Sans" font-size="86.5" font-weight="normal" letter-spacing="1.82" style="font-kerning:none" stroke="#000" stroke-width="1.4">DC</text>
<text transform="translate(1650.3,2864.8) scale(1.1670,1)" font-family="Liberation Sans" font-size="86.5" font-weight="normal" letter-spacing="3.12" style="font-kerning:none" stroke="#000" stroke-width="1.4">100mΩ</text>
<text transform="translate(2020.3,2864.8) scale(1.1670,1)" font-family="Liberation Sans" font-size="86.5" font-weight="normal" letter-spacing="1.32" style="font-kerning:none" stroke="#000" stroke-width="1.4">max</text>
<text transform="translate(1650.3,2970.2) scale(1.1670,1)" font-family="Liberation Sans" font-size="86.5" font-weight="normal" letter-spacing="3.12" style="font-kerning:none" stroke="#000" stroke-width="1.4">100mΩ</text>
<text transform="translate(2020.6,2970.2) scale(1.1670,1)" font-family="Liberation Sans" font-size="86.5" font-weight="normal" letter-spacing="2.01" style="font-kerning:none" stroke="#000" stroke-width="1.4">min.500V</text>
<text transform="translate(2496.3,2970.2) scale(1.1670,1)" font-family="Liberation Sans" font-size="86.5" font-weight="normal" letter-spacing="1.99" style="font-kerning:none" stroke="#000" stroke-width="1.4">DC</text>
<text transform="translate(1646.5,3073) scale(1.1670,1)" font-family="Liberation Sans" font-size="86.5" font-weight="normal" letter-spacing="1.13" style="font-kerning:none" stroke="#000" stroke-width="1.4">250V</text>
<text transform="translate(1927.2,3073) scale(1.1670,1)" font-family="Liberation Sans" font-size="86.5" font-weight="normal" letter-spacing="1.23" style="font-kerning:none" stroke="#000" stroke-width="1.4">AC/1minute</text>
<text transform="translate(1648.4,3178.7) scale(1.1670,1)" font-family="Liberation Sans" font-size="86.5" font-weight="normal" letter-spacing="2.17" style="font-kerning:none" stroke="#000" stroke-width="1.4">0.25mm</text>
<ellipse class="f2" cx="1236" cy="2756.6" rx="6" ry="5.5" style="fill:#000;stroke:none"/>
<ellipse class="f2" cx="1236" cy="2736.1" rx="6" ry="5.5" style="fill:#000;stroke:none"/>
<ellipse class="f2" cx="1455.6" cy="2862" rx="6" ry="5.5" style="fill:#000;stroke:none"/>
<ellipse class="f2" cx="1455.6" cy="2841.5" rx="6" ry="5.5" style="fill:#000;stroke:none"/>
<ellipse class="f2" cx="1510.5" cy="2965" rx="6" ry="5.5" style="fill:#000;stroke:none"/>
<ellipse class="f2" cx="1510.5" cy="2944.5" rx="6" ry="5.5" style="fill:#000;stroke:none"/>
<ellipse class="f2" cx="1399.5" cy="3069" rx="6" ry="5.5" style="fill:#000;stroke:none"/>
<ellipse class="f2" cx="1399.5" cy="3048.5" rx="6" ry="5.5" style="fill:#000;stroke:none"/>
<ellipse class="f2" cx="805.3" cy="3172" rx="6" ry="5.5" style="fill:#000;stroke:none"/>
<ellipse class="f2" cx="805.3" cy="3151.5" rx="6" ry="5.5" style="fill:#000;stroke:none"/>
<ellipse class="f2" cx="1271.9" cy="3280" rx="6" ry="5.5" style="fill:#000;stroke:none"/>
<ellipse class="f2" cx="1271.9" cy="3259.5" rx="6" ry="5.5" style="fill:#000;stroke:none"/>
<ellipse class="f2" cx="1177.8" cy="3385" rx="6" ry="5.5" style="fill:#000;stroke:none"/>
<ellipse class="f2" cx="1177.8" cy="3364.5" rx="6" ry="5.5" style="fill:#000;stroke:none"/>
<text transform="translate(1626.5,3283.7) scale(1.1670,1)" font-family="Liberation Sans" font-size="86.5" font-weight="normal" letter-spacing="3.18" style="font-kerning:none" stroke="#000" stroke-width="1.4">-30</text>
<ellipse cx="1806" cy="3230.7" rx="7.5" ry="7" stroke-width="2.4"/>
<text transform="translate(1812.8,3283.7) scale(1.1746,1)" font-family="Liberation Serif" font-size="88" font-weight="normal" >C</text>
<text transform="translate(1893,3283.7) scale(1.1670,1)" font-family="Liberation Sans" font-size="86.5" font-weight="normal" letter-spacing="1.74" style="font-kerning:none" stroke="#000" stroke-width="1.4">~+85</text>
<ellipse cx="2155.5" cy="3230.7" rx="7.5" ry="7" stroke-width="2.4"/>
<text transform="translate(2162.2,3283.7) scale(1.1786,1)" font-family="Liberation Serif" font-size="88" font-weight="normal" >C</text>
<text transform="translate(1642,3390) scale(1.1670,1)" font-family="Liberation Sans" font-size="86.5" font-weight="normal" letter-spacing="2.16" style="font-kerning:none" stroke="#000" stroke-width="1.4">-30</text>
<ellipse cx="1819.6" cy="3337" rx="7.5" ry="7" stroke-width="2.4"/>
<text transform="translate(1826.3,3390) scale(1.1786,1)" font-family="Liberation Serif" font-size="88" font-weight="normal" >C</text>
<text transform="translate(1906.5,3390) scale(1.1670,1)" font-family="Liberation Sans" font-size="86.5" font-weight="normal" letter-spacing="2.28" style="font-kerning:none" stroke="#000" stroke-width="1.4">~+80</text>
<ellipse cx="2169" cy="3337" rx="7.5" ry="7" stroke-width="2.4"/>
<text transform="translate(2175.8,3390) scale(1.1746,1)" font-family="Liberation Serif" font-size="88" font-weight="normal" >C</text>
</svg></body></html>
